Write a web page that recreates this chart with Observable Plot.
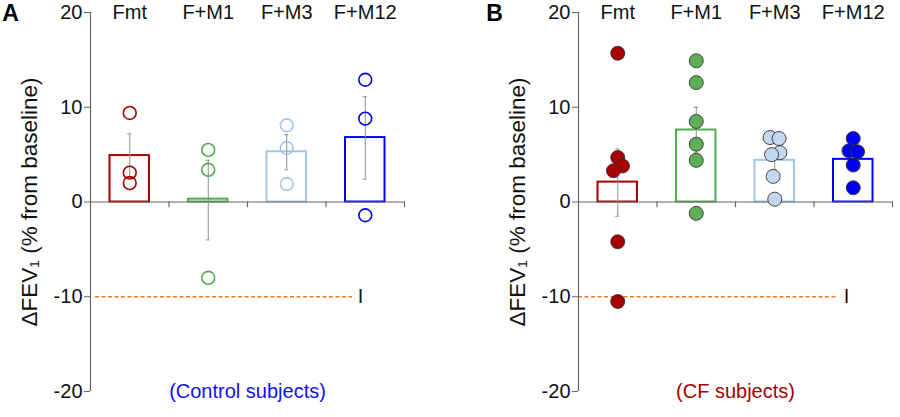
<!DOCTYPE html>
<html><head><meta charset="utf-8">
<script src="https://cdn.jsdelivr.net/npm/d3@7"></script>
<script src="https://cdn.jsdelivr.net/npm/@observablehq/plot@0.6"></script>
<style>
body{margin:0;background:#fff;}
#wrap{position:relative;width:900px;height:417px;display:flex;font-family:"Liberation Sans",Arial,sans-serif;}
#wrap svg{display:block;}
</style></head><body><div id="wrap"></div>
<script>
const categories = ["Fmt", "F+M1", "F+M3", "F+M12"];
const strokeColors = ["#a80000", "#52ab4d", "#a6c4e8", "#0000f5"];
const fillColorsB = ["#a80000", "#5cae57", "#c3d7ef", "#0000f0"];
const yTicks = [-20, -10, 0, 10, 20];
const threshold = -10;
const yLabel = "ΔFEV₁ (% from baseline)";

// Panel A: control subjects
const meansA = [4.9, 0.3, 5.3, 6.8];
const errLowA = [2.6, -4.0, 3.4, 2.4];
const errHighA = [7.2, 4.4, 7.1, 11.1];
const pointsA = [[9.4, 3.1, 2.0], [5.5, 3.4, -8.0], [8.1, 5.7, 1.9], [12.9, 8.8, -1.4]];
const jitterA = [[0, 0, 0], [0, 0, 0], [0, 0, 0], [0, 0, 0]];

// Panel B: CF subjects
const meansB = [2.1, 7.6, 4.4, 4.5];
const errLowB = [-1.5, 5.2, 3.4, 3.7];
const errHighB = [5.6, 10.0, 5.4, 5.4];
const pointsB = [[15.7, 4.7, 3.8, 3.3, -4.2, -10.5], [14.9, 12.6, 8.5, 6.1, 4.4, -1.2], [6.8, 6.7, 5.2, 5.0, 2.7, 0.3], [6.7, 5.4, 5.3, 3.9, 1.5]];
const jitterB = [[0, 0, 0.06, -0.055, 0, 0], [0, 0, 0, 0, 0, 0], [-0.06, 0.055, 0.065, -0.04, -0.02, 0], [0, -0.055, 0.055, 0, 0]];

function panel(o) {
  const summary = categories.map((c, i) => ({c, i, mean: o.means[i], lo: o.lo[i], hi: o.hi[i]}));
  const pts = [];
  o.points.forEach((arr, i) => arr.forEach((v, k) => pts.push({c: categories[i], i, v, j: o.jitter[i][k]})));
  const grey = "#8f8f8f";
  const axisGrey = "#666";
  return Plot.plot({
    width: 450, height: 417,
    marginLeft: o.marginLeft, marginRight: o.marginRight, marginTop: 12, marginBottom: 26,
    style: {fontFamily: "'Liberation Sans', Arial, sans-serif", background: "white", overflow: "visible"},
    x: {domain: [0, categories.length], axis: null},
    y: {domain: [-20, 20], axis: null},
    color: {type: "identity"},
    marks: [
      Plot.ruleY([threshold], {stroke: "#ec7b25", strokeWidth: 1.3, strokeDasharray: "4,2.5", insetLeft: o.dashInsetLeft, insetRight: o.dashInsetRight}),
      Plot.text([threshold], {y: d => d, text: () => "I", frameAnchor: "right", textAnchor: "middle", dx: o.iDx, fontSize: 20, fill: "#111"}),
      Plot.rectY(summary, {x1: d => d.i, x2: d => d.i + 1, y: "mean", insetLeft: 19.5, insetRight: 19.5, fill: "white", stroke: d => strokeColors[d.i], strokeWidth: 2}),
      Plot.ruleY([0], {stroke: axisGrey, strokeWidth: 1.2}),
      Plot.ruleX(d3.range(1, categories.length + 1), {y1: 0, y2: -0.6, stroke: axisGrey, strokeWidth: 1.2}),
      Plot.ruleX([0], {stroke: axisGrey, strokeWidth: 1.2}),
      Plot.axisY({ticks: yTicks, tickFormat: d => String(d), tickSize: 6, tickPadding: 2, fontSize: 20, stroke: axisGrey, fill: "#111", label: null}),
      Plot.ruleX(summary, {x: d => d.i + 0.5, y1: "lo", y2: "hi", stroke: grey, strokeWidth: 1}),
      Plot.ruleY(summary, {y: "lo", x1: d => d.i + 0.5, x2: d => d.i + 0.5, insetLeft: -2, insetRight: -2, stroke: grey}),
      Plot.ruleY(summary, {y: "hi", x1: d => d.i + 0.5, x2: d => d.i + 0.5, insetLeft: -2, insetRight: -2, stroke: grey}),
      o.filled
        ? Plot.dot(pts, {x: d => d.i + 0.5 + d.j, y: "v", r: 7, fill: d => fillColorsB[d.i], stroke: "#333", strokeWidth: 0.9})
        : Plot.dot(pts, {x: d => d.i + 0.5 + d.j, y: "v", r: 6.4, fill: "none", stroke: d => strokeColors[d.i], strokeWidth: 1.6}),
      Plot.text(categories, {x: (d, i) => i + 0.5, y: () => 20, text: d => d, fontSize: 20, fill: "#111", lineAnchor: "middle"}),
      Plot.text([o.subtitle], {frameAnchor: "bottom", lineAnchor: "middle", text: d => d, fill: o.subColor, fontSize: 20}),
      Plot.text([yLabel], {frameAnchor: "left", textAnchor: "middle", rotate: -90, dx: -61, text: d => d, fontSize: 22.5, fill: "#111", lineAnchor: "middle"}),
      Plot.text([o.letter], {frameAnchor: "top-left", textAnchor: "middle", lineAnchor: "middle", dx: o.letterDx, dy: 1, text: d => d, fontSize: 23, fontWeight: "bold", fill: "#000"})
    ]
  });
}

const wrap = document.getElementById("wrap");
wrap.append(panel({
  means: meansA, lo: errLowA, hi: errHighA, points: pointsA, jitter: jitterA, filled: false,
  letter: "A", subtitle: "(Control subjects)", subColor: "#1010f0",
  marginLeft: 90, marginRight: 46, dashInsetLeft: 5, dashInsetRight: 52, iDx: -44, letterDx: -80
}));
wrap.append(panel({
  means: meansB, lo: errLowB, hi: errHighB, points: pointsB, jitter: jitterB, filled: true,
  letter: "B", subtitle: "(CF subjects)", subColor: "#a80000",
  marginLeft: 128, marginRight: 8, dashInsetLeft: 0, dashInsetRight: 55, iDx: -46, letterDx: -84
}));
</script></body></html>
